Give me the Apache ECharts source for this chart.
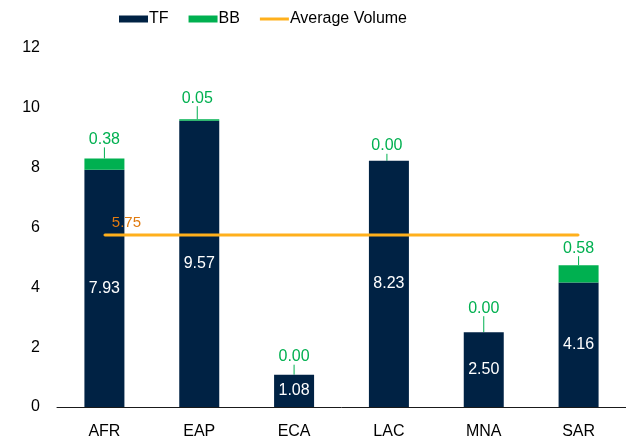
<!DOCTYPE html>
<html>
<head>
<meta charset="utf-8">
<script src="https://cdn.jsdelivr.net/npm/echarts@6/dist/echarts.min.js"></script>
<style>
  html, body { margin: 0; padding: 0; background: #fff; }
  #chart { width: 626px; height: 440px; }
</style>
</head>
<body>
<div id="chart"></div>
<script>
var regions = ['AFR', 'EAP', 'ECA', 'LAC', 'MNA', 'SAR'];
var tfValues = [7.93, 9.57, 1.08, 8.23, 2.50, 4.16];
var bbValues = [0.38, 0.05, 0.00, 0.00, 0.00, 0.58];
var avgVolume = [5.75, 5.75, 5.75, 5.75, 5.75, 5.75];

// where the BB labels sit relative to the default 'top' spot
var bbShift = [[0, -6], [-2, -8], [0, -5], [-2, -2], [0, -11], [0, -4]];

var font = 'Liberation Sans, Arial, sans-serif';
var myChart = echarts.init(document.getElementById('chart'));

option = {
    animation: false,
    textStyle: {fontFamily: font},
    legend: {
        left: 114,
        top: 6,
        itemWidth: 29,
        itemHeight: 7,
        itemGap: 20,
        textStyle: {fontSize: 16, color: '#000', fontFamily: font, padding: [0, 0, 0, -4]},
        data: [
            {name: 'TF', icon: 'rect'},
            {name: 'BB', icon: 'rect'},
            {name: 'Average Volume', icon: 'path://M0 0H29V3H0Z'}
        ]
    },
    grid: {
        left: 57,
        top: 48,
        width: 582,
        bottom: 33
    },
    xAxis: {
        type: 'category',
        data: regions,
        axisTick: {show: false},
        axisLine: {lineStyle: {color: '#1a1a1a', width: 1}},
        axisLabel: {fontSize: 16, color: '#000', margin: 17, fontFamily: font}
    },
    yAxis: {
        type: 'value',
        min: 0,
        max: 12,
        interval: 2,
        splitLine: {show: false},
        axisLine: {show: false},
        axisLabel: {fontSize: 16, color: '#000', margin: 17, fontFamily: font}
    },
    series: [
        {
            name: 'TF',
            type: 'bar',
            stack: 'vol',
            barWidth: 40,
            itemStyle: {color: '#002244'},
            label: {
                show: true,
                position: 'inside',
                color: '#fff',
                fontSize: 16,
                fontFamily: font,
                formatter: function (p) { return p.value.toFixed(2); }
            },
            data: tfValues
        },
        {
            name: 'BB',
            type: 'bar',
            stack: 'vol',
            barWidth: 40,
            itemStyle: {color: '#00b050'},
            label: {
                show: true,
                position: 'top',
                distance: 5,
                color: '#00b050',
                fontSize: 16,
                fontFamily: font,
                formatter: function (p) { return p.value.toFixed(2); }
            },
            labelLine: {show: true, lineStyle: {color: '#00b050', width: 1}},
            labelLayout: function (p) {
                var s = bbShift[p.dataIndex];
                return {dx: s[0], dy: s[1]};
            },
            data: bbValues
        },
        {
            name: 'Average Volume',
            type: 'line',
            symbol: 'circle',
            symbolSize: 2,
            showSymbol: true,
            z: 5,
            lineStyle: {color: '#ffb01c', width: 3},
            itemStyle: {color: '#ffb01c'},
            label: {
                show: true,
                position: 'top',
                distance: 4,
                offset: [22, 0],
                color: '#e07b10',
                fontSize: 15,
                fontFamily: font,
                formatter: function (p) {
                    // only the first point carries the label
                    return p.dataIndex == 0 ? p.value.toFixed(2) : '';
                }
            },
            data: avgVolume
        }
    ]
};
myChart.setOption(option);
</script>
</body>
</html>
